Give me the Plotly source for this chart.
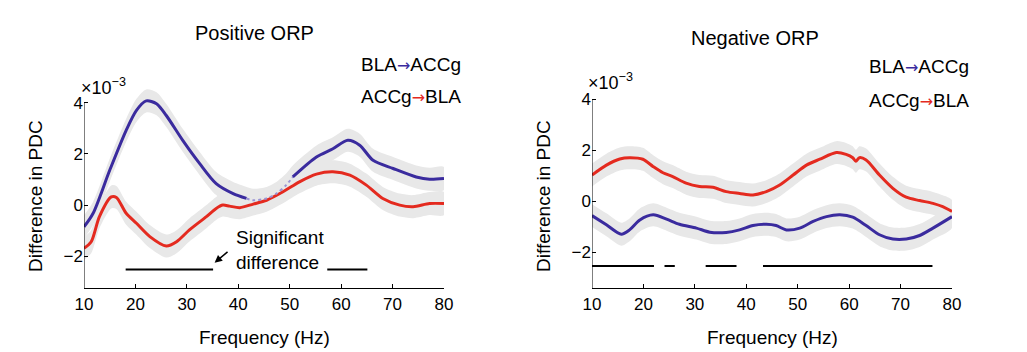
import plotly.graph_objects as go
import numpy as np

W, H = 1027, 352
BLUE = "#3a2b9e"
RED = "#e42a1f"
BAND = "#e8e8e8"
FONT = "Liberation Sans, Arial, sans-serif"

# ---------------- data (values x1e-3) ----------------
pos_freq_blue = [10, 11.75, 15, 18.2, 20.2, 22.1, 24.1, 26, 29.2, 32.5, 35.7, 39, 41.6,
                 42.9, 45.5, 47.4, 49.3, 50.6, 55.2, 58.4, 61.3, 63.6, 66.2, 70.1, 74.6, 77.2, 80]
pos_blue = [-0.85, -0.33, 1.36, 2.92, 3.7, 4.07, 3.96, 3.5, 2.53, 1.62, 0.84, 0.45, 0.26,
            0.19, 0.26, 0.45, 0.78, 1.1, 1.88, 2.2, 2.53, 2.34, 1.75, 1.43, 1.1, 1.01, 1.04]
pos_blue_faint = (41.6, 50.6)

pos_freq_red = [10, 11.4, 13, 15.3, 16.3, 18.2, 20.2, 22.8, 26, 28, 30.5, 33.8, 35.7, 37, 38.3,
                40.3, 42.9, 45.5, 48.7, 51.9, 55.2, 58.4, 61.7, 64.9, 68.1, 71.4, 74, 77.2, 80]
pos_red = [-1.69, -1.43, -0.45, 0.32, 0.3, -0.32, -0.71, -1.23, -1.6, -1.43, -0.97, -0.45, -0.13, 0.0, -0.04,
           -0.1, 0.04, 0.19, 0.52, 0.91, 1.21, 1.3, 1.17, 0.78, 0.26, 0.0, -0.06, 0.06, 0.06]

neg_freq_red = [10, 12.8, 15.4, 17.3, 19.9, 21.9, 23.8, 25.7, 28.3, 30.9, 33.5, 36.1, 38.7, 41.3, 43.9,
                46.5, 49.1, 51.7, 54.3, 57.5, 59.4, 60.7, 61.3, 62, 63.3, 65.9, 68.5, 71.1, 73.7, 76.3, 78.2, 80]
neg_red = [1.03, 1.42, 1.66, 1.71, 1.65, 1.36, 1.12, 0.97, 0.71, 0.58, 0.55, 0.38, 0.31, 0.25, 0.38,
           0.64, 1.03, 1.42, 1.65, 1.91, 1.84, 1.71, 1.57, 1.71, 1.62, 1.03, 0.51, 0.16, 0.03, -0.08, -0.21, -0.4]

neg_freq_blue = [10, 12.8, 15.7, 17.3, 19.3, 21.9, 24.5, 27, 30.3, 32.9, 36.1, 38.7, 41.3, 43.9, 45.8,
                 47.8, 50.4, 53, 55.6, 58.2, 60.7, 63.3, 65.9, 68.5, 71.1, 73.7, 76.3, 80]
neg_blue = [-0.56, -0.92, -1.29, -1.12, -0.73, -0.53, -0.7, -0.9, -1.05, -1.21, -1.22, -1.12, -0.95, -0.9, -0.95,
            -1.12, -1.05, -0.79, -0.6, -0.53, -0.62, -0.95, -1.31, -1.48, -1.48, -1.34, -1.05, -0.6]

band_halfwidth = 0.45

pos_sig = [(18.1, 35.1), (57.3, 65.1)]
pos_sig_level = -2.52
neg_sig = [(10, 22.05), (24.1, 26.1), (32.1, 38.1), (43.25, 76.2)]
neg_sig_level = -2.54

xticks = [10, 20, 30, 40, 50, 60, 70, 80]
yticks = [-2, 0, 2, 4]
yticklabels = ["\u22122", "0", "2", "4"]
titles = ["Positive ORP", "Negative ORP"]
series_labels = [("BLA", "ACCg", BLUE), ("ACCg", "BLA", RED)]
x_title = "Frequency (Hz)"
y_title = "Difference in PDC"

# axis limits (axis line drawn only up to y=4, plotting area extends a bit above)
pos_ylim = (-3.25, 4)
neg_ylim = (-3.41, 4)
y_headroom = 0.8

# ---------------- figure ----------------
fig = go.Figure()


def add_band(x, y, xa, ya):
    x = np.asarray(x, float)
    y = np.asarray(y, float)
    fig.add_trace(go.Scatter(
        x=np.concatenate([x, x[::-1]]),
        y=np.concatenate([y + band_halfwidth, (y - band_halfwidth)[::-1]]),
        fill="toself", fillcolor=BAND, line=dict(width=0, shape="spline", smoothing=0.8),
        mode="lines", hoverinfo="skip", showlegend=False, xaxis=xa, yaxis=ya))


def add_line(x, y, color, xa, ya, dash="solid", width=3):
    fig.add_trace(go.Scatter(x=x, y=y, mode="lines",
                             line=dict(color=color, width=width, dash=dash, shape="spline", smoothing=0.8),
                             showlegend=False, xaxis=xa, yaxis=ya))


def add_sig(intervals, level, xa, ya):
    xs, ys = [], []
    for a, b in intervals:
        xs += [a, b, None]
        ys += [level, level, None]
    fig.add_trace(go.Scatter(x=xs, y=ys, mode="lines", line=dict(color="black", width=2),
                             showlegend=False, xaxis=xa, yaxis=ya))


# left panel
add_band(pos_freq_blue, pos_blue, "x", "y")
add_band(pos_freq_red, pos_red, "x", "y")
pfb = np.array(pos_freq_blue)
pb = np.array(pos_blue)
lo, hi = pos_blue_faint
m1 = pfb <= lo
m2 = (pfb >= lo) & (pfb <= hi)
m3 = pfb >= hi
add_line(pos_freq_red, pos_red, RED, "x", "y")
add_line(pfb[m1], pb[m1], BLUE, "x", "y")
add_line(pfb[m2], pb[m2], "#9a94d4", "x", "y", dash="dot", width=2)
add_line(pfb[m3], pb[m3], BLUE, "x", "y")
add_sig(pos_sig, pos_sig_level, "x", "y")

# right panel
add_band(neg_freq_red, neg_red, "x2", "y2")
add_band(neg_freq_blue, neg_blue, "x2", "y2")
add_line(neg_freq_red, neg_red, RED, "x2", "y2")
add_line(neg_freq_blue, neg_blue, BLUE, "x2", "y2")
add_sig(neg_sig, neg_sig_level, "x2", "y2")

axis_common = dict(showgrid=False, zeroline=False, automargin=False,
                   ticks="inside", ticklen=4, tickcolor="black", tickwidth=1,
                   tickfont=dict(family=FONT, size=17, color="black"))


def px2x(px):
    return px / W


def px2y(py):
    return 1 - py / H


# pixel geometry of the axes
L_x0, L_x1 = 84, 444
R_x0, R_x1 = 592, 952
bottom_px = 288.3
L_ppu = (bottom_px - 102.7) / (pos_ylim[1] - pos_ylim[0])
R_ppu = (bottom_px - 99.3) / (neg_ylim[1] - neg_ylim[0])
L_top = 102.7 - y_headroom * L_ppu
R_top = 99.3 - y_headroom * R_ppu

fig.update_layout(
    width=W, height=H, margin=dict(l=0, r=0, t=0, b=0),
    paper_bgcolor="white", plot_bgcolor="white",
    font=dict(family=FONT, size=17, color="black"),
    xaxis=dict(domain=[px2x(L_x0), px2x(L_x1)], range=[10, 80], tickvals=xticks, anchor="y",
               showline=True, linecolor="black", linewidth=1, **axis_common),
    yaxis=dict(domain=[px2y(bottom_px), px2y(L_top)], range=[pos_ylim[0], pos_ylim[1] + y_headroom],
               tickvals=yticks, ticktext=yticklabels, anchor="x", showline=False, **axis_common),
    xaxis2=dict(domain=[px2x(R_x0), px2x(R_x1)], range=[10, 80], tickvals=xticks, anchor="y2",
                showline=True, linecolor="black", linewidth=1, **axis_common),
    yaxis2=dict(domain=[px2y(bottom_px), px2y(R_top)], range=[neg_ylim[0], neg_ylim[1] + y_headroom],
                tickvals=yticks, ticktext=yticklabels, anchor="x2", showline=False, **axis_common),
)

# y axis lines only up to the top tick
fig.add_shape(type="line", xref="x", yref="y", x0=10, x1=10, y0=pos_ylim[0], y1=pos_ylim[1],
              line=dict(color="black", width=1))
fig.add_shape(type="line", xref="x2", yref="y2", x0=10, x1=10, y0=neg_ylim[0], y1=neg_ylim[1],
              line=dict(color="black", width=1))

ann = []
# titles
for t, cx, cy in [(titles[0], 254, 33), (titles[1], 755, 38)]:
    ann.append(dict(text=t, x=px2x(cx), y=px2y(cy), xref="paper", yref="paper",
                    xanchor="center", yanchor="middle", showarrow=False, font=dict(size=20)))
# axis titles
for cx in [(L_x0 + L_x1) / 2, (R_x0 + R_x1) / 2]:
    ann.append(dict(text=x_title, x=px2x(cx), y=px2y(337), xref="paper", yref="paper",
                    xanchor="center", yanchor="middle", showarrow=False, font=dict(size=19)))
for cx in [36, 544]:
    ann.append(dict(text=y_title, x=px2x(cx), y=px2y(196), xref="paper", yref="paper", textangle=-90,
                    xanchor="center", yanchor="middle", showarrow=False, font=dict(size=19)))
# x10^-3
for lx, ly in [(79, 86), (586, 82)]:
    ann.append(dict(text="\u00d710<sup>\u22123</sup>", x=px2x(lx), y=px2y(ly), xref="paper", yref="paper",
                    xanchor="left", yanchor="middle", showarrow=False, font=dict(size=18)))
# legend-like labels
for lx, ys in [(359, (64, 96)), (867, (67, 100))]:
    for (a, b, c), ly in zip(series_labels, ys):
        ann.append(dict(text=f"{a}<span style='color:{c};font-family:DejaVu Sans;font-size:16px'>\u2192</span>{b}",
                        x=px2x(lx), y=px2y(ly), xref="paper", yref="paper",
                        xanchor="left", yanchor="middle", showarrow=False, font=dict(size=19)))
# significant difference
ann.append(dict(text="Significant<br>difference", x=39.1, y=-1.74, xref="x", yref="y",
                xanchor="left", yanchor="middle", align="left", showarrow=False, font=dict(size=19)))
ann.append(dict(text="", x=35.4, y=-2.25, ax=38.2, ay=-1.78, xref="x", yref="y", axref="x", ayref="y",
                showarrow=True, arrowhead=2, arrowsize=1, arrowwidth=1.5, arrowcolor="black"))
fig.update_layout(annotations=ann)

fig.write_html("out.html")
